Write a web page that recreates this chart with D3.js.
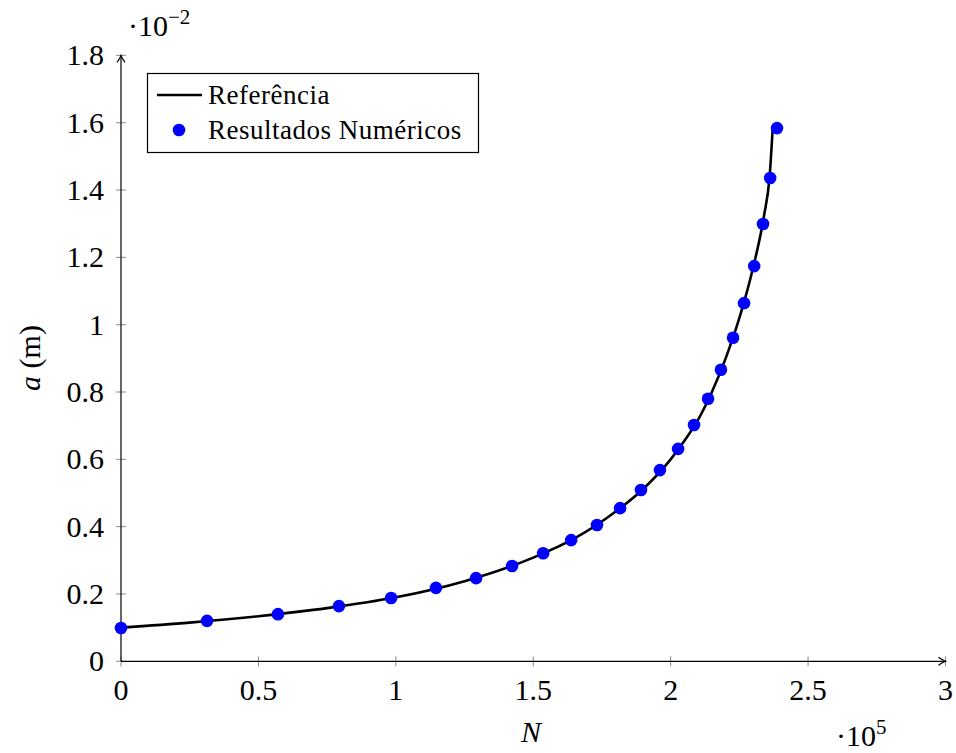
<!DOCTYPE html>
<html>
<head>
<meta charset="utf-8">
<script src="https://cdn.jsdelivr.net/npm/d3@7"></script>
<style>
  html, body { margin: 0; padding: 0; background: #fff; }
  svg { display: block; font-family: "Liberation Serif", "DejaVu Serif", serif; }
</style>
</head>
<body>
<svg id="chart" width="956" height="753"></svg>
<script>
// Crack length a (×10⁻² m) against number of cycles N (×10⁵)
const numN = [0, 0.313, 0.571, 0.793, 0.983, 1.146, 1.292, 1.423, 1.536, 1.638, 1.732, 1.816,
              1.892, 1.961, 2.027, 2.085, 2.136, 2.183, 2.227, 2.267, 2.304, 2.336, 2.362, 2.387];
const numA = [0.099, 0.120, 0.140, 0.164, 0.188, 0.218, 0.247, 0.283, 0.321, 0.360, 0.405, 0.455,
              0.509, 0.568, 0.631, 0.702, 0.780, 0.866, 0.961, 1.064, 1.174, 1.299, 1.436, 1.584];

// Reference curve
const refN = [0, 0.25, 0.5, 0.75, 1.0, 1.25, 1.5, 1.65, 1.8, 1.9, 2.0, 2.05, 2.1, 2.15, 2.2,
              2.25, 2.3, 2.34, 2.36, 2.371];
const refA = [0.100, 0.115, 0.134, 0.158, 0.190, 0.238, 0.308, 0.365, 0.445, 0.512, 0.600, 0.655,
              0.718, 0.800, 0.900, 1.020, 1.170, 1.325, 1.440, 1.580];

const xTicks = [0, 0.5, 1, 1.5, 2, 2.5, 3];
const yTicks = [0, 0.2, 0.4, 0.6, 0.8, 1, 1.2, 1.4, 1.6, 1.8];

const svg = d3.select("#chart");
const x = d3.scaleLinear().domain([0, 3]).range([121, 945.5]);
const y = d3.scaleLinear().domain([0, 1.8]).range([661.3, 55.4]);

const fmt = d => String(d);

// Ticks (cross the axis lines)
const tickColor = "#8c8c8c";
svg.append("g").selectAll("line").data(xTicks).join("line")
  .attr("x1", d => x(d)).attr("x2", d => x(d))
  .attr("y1", y(0) - 5).attr("y2", y(0) + 5)
  .attr("stroke", tickColor).attr("stroke-width", 1);
svg.append("g").selectAll("line").data(yTicks).join("line")
  .attr("y1", d => y(d)).attr("y2", d => y(d))
  .attr("x1", x(0) - 5).attr("x2", x(0) + 5)
  .attr("stroke", tickColor).attr("stroke-width", 1);

// Axis lines with arrow heads
svg.append("line").attr("x1", x(0)).attr("x2", x(3)).attr("y1", y(0)).attr("y2", y(0))
  .attr("stroke", "#000").attr("stroke-width", 1.2);
svg.append("line").attr("x1", x(0)).attr("x2", x(0)).attr("y1", y(0)).attr("y2", y(1.8))
  .attr("stroke", "#000").attr("stroke-width", 1.2);
const ax = x(3), ay = y(0);
svg.append("path")
  .attr("d", `M${ax - 7},${ay - 4} Q${ax - 3},${ay - 1} ${ax},${ay} Q${ax - 3},${ay + 1} ${ax - 7},${ay + 4}`)
  .attr("fill", "none").attr("stroke", "#000").attr("stroke-width", 1.2);
const bx = x(0), by = y(1.8);
svg.append("path")
  .attr("d", `M${bx - 4},${by + 7} Q${bx - 1},${by + 3} ${bx},${by} Q${bx + 1},${by + 3} ${bx + 4},${by + 7}`)
  .attr("fill", "none").attr("stroke", "#000").attr("stroke-width", 1.2);

// Tick labels
svg.append("g").selectAll("text").data(xTicks).join("text")
  .attr("x", d => x(d)).attr("y", 700)
  .attr("text-anchor", "middle").attr("font-size", 30).attr("fill", "#000")
  .text(fmt);
svg.append("g").selectAll("text").data(yTicks).join("text")
  .attr("x", 104).attr("y", d => y(d) + 10)
  .attr("text-anchor", "end").attr("font-size", 30).attr("fill", "#000")
  .text(fmt);

// Scale multipliers
const mx = svg.append("text").attr("x", 836).attr("y", 746).attr("font-size", 30);
mx.append("tspan").text("·10");
mx.append("tspan").attr("dy", -12).attr("font-size", 21).text("5");
const my = svg.append("text").attr("x", 128).attr("y", 36).attr("font-size", 30);
my.append("tspan").text("·10");
my.append("tspan").attr("dy", -12).attr("font-size", 21).text("−2");

// Axis titles
svg.append("text").attr("x", 531).attr("y", 742).attr("text-anchor", "middle")
  .attr("font-size", 30).attr("font-style", "italic").text("N");
const yl = svg.append("text").attr("transform", "translate(40,358) rotate(-90)")
  .attr("text-anchor", "middle").attr("font-size", 30);
yl.append("tspan").attr("font-style", "italic").text("a");
yl.append("tspan").text(" (m)");

// Reference curve
const line = d3.line().x(d => x(d[0])).y(d => y(d[1])).curve(d3.curveMonotoneX);
svg.append("path").datum(refN.map((n, i) => [n, refA[i]]))
  .attr("d", line).attr("fill", "none").attr("stroke", "#000").attr("stroke-width", 2.6)
  .attr("stroke-linejoin", "round");

// Numerical results
svg.append("g").selectAll("circle").data(numN.map((n, i) => [n, numA[i]])).join("circle")
  .attr("cx", d => x(d[0])).attr("cy", d => y(d[1])).attr("r", 6.3).attr("fill", "#0000ff");

// Legend
const lg = svg.append("g");
lg.append("rect").attr("x", 147.5).attr("y", 73.5).attr("width", 331).attr("height", 79)
  .attr("fill", "#fff").attr("stroke", "#000").attr("stroke-width", 1.2);
lg.append("line").attr("x1", 157).attr("x2", 202).attr("y1", 95).attr("y2", 95)
  .attr("stroke", "#000").attr("stroke-width", 2.6);
lg.append("circle").attr("cx", 179).attr("cy", 130).attr("r", 6.3).attr("fill", "#0000ff");
lg.append("text").attr("x", 208).attr("y", 104).attr("font-size", 27)
  .attr("letter-spacing", 0.5).text("Referência");
lg.append("text").attr("x", 208).attr("y", 139).attr("font-size", 27)
  .attr("letter-spacing", 0.5).text("Resultados Numéricos");
</script>
</body>
</html>
